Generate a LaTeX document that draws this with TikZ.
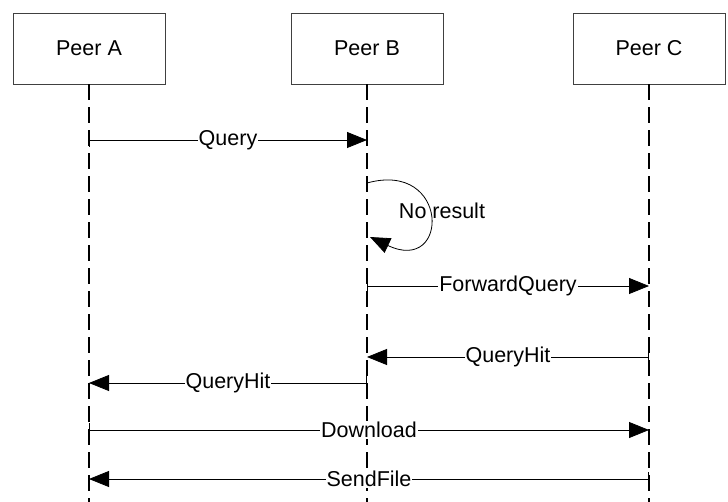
\documentclass[tikz,border=0pt]{standalone}
\usepackage{fontspec}
\setmainfont{Liberation Sans}
\usetikzlibrary{arrows.meta}

\begin{document}
\begin{tikzpicture}[x=1pt,y=-1pt,font=\fontsize{21.5}{26}\selectfont,
  peer/.style={draw=black!75,line width=0.8pt,minimum width=152pt,minimum height=71pt,inner sep=0pt},
  life/.style={line width=1.8pt,dash pattern=on 16pt off 7pt},
  msg/.style={line width=0.8pt,{Bar[width=14pt]}-{Triangle[length=20pt,width=16pt]}},
  lbl/.style={fill=white,inner sep=1pt}]
\useasboundingbox (0,0) rectangle (728,502);

% Peers and lifelines
\node[peer] (A) at (89,48.5) {Peer A};
\node[peer] (B) at (367,48.5) {Peer B};
\node[peer] (C) at (649,48.5) {Peer C};
\coordinate (Aend) at (89,502);
\coordinate (Bend) at (367,502);
\coordinate (Cend) at (649,502);
\draw[life] (A.south) -- (Aend);
\draw[life] (B.south) -- (Bend);
\draw[life] (C.south) -- (Cend);

% Query
\coordinate (Aq) at (89,140);
\coordinate (Bq) at (367,140);
\draw[msg] (Aq) -- node[lbl] {Query} (Bq);

% no result loop
\coordinate (Bloop1) at (367,183);
\coordinate (Bloop2) at (370,237);
\draw[line width=0.8pt,-{Triangle[length=20pt,width=16pt]}] (Bloop1) .. controls (450,160) and (450,275) .. (Bloop2);
\node (noresult) at (442,211) {No result};

% ForwardQuery and hits
\coordinate (Bfw) at (367,286);
\coordinate (Cfw) at (649,286);
\draw[msg] (Bfw) -- node[lbl] {ForwardQuery} (Cfw);
\coordinate (Chit) at (649,357);
\coordinate (Bhit) at (367,357);
\draw[msg] (Chit) -- node[lbl] {QueryHit} (Bhit);
\coordinate (Bhit2) at (367,383);
\coordinate (Ahit) at (89,383);
\draw[msg] (Bhit2) -- node[lbl] {QueryHit} (Ahit);

% Download and SendFile
\coordinate (Adl) at (89,430);
\coordinate (Cdl) at (649,430);
\draw[msg] (Adl) -- node[lbl] {Download} (Cdl);
\coordinate (Csf) at (649,479);
\coordinate (Asf) at (89,479);
\draw[msg] (Csf) -- node[lbl] {SendFile} (Asf);

\end{tikzpicture}
\end{document}
